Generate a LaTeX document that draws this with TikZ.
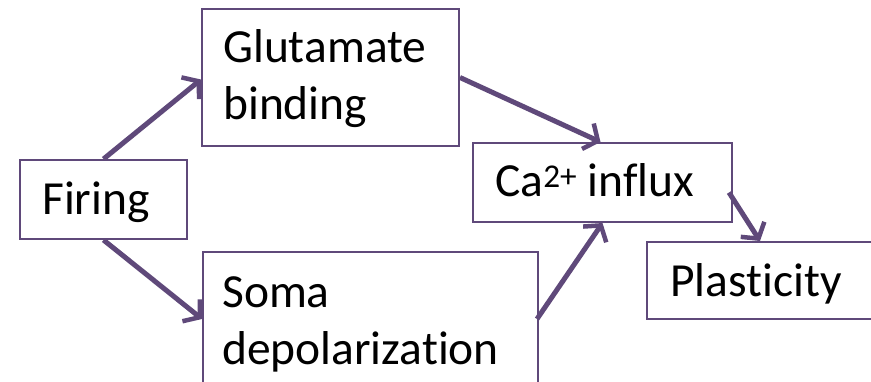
\documentclass[tikz,border=0pt]{standalone}
\usepackage{fontspec}
\setmainfont{Carlito}[Ligatures=NoCommon]
\usetikzlibrary{arrows.meta}
\definecolor{pur}{RGB}{95,73,122}
\tikzset{
  box/.style={draw=pur, line width=2pt, rectangle, inner sep=0pt},
  lbl/.style={anchor=base west, inner sep=0pt, font=\fontsize{47.5}{56}\selectfont},
  flow/.style={draw=pur, line width=5pt, -{Straight Barb[length=11pt,width=28pt,line width=4.5pt]}},
}
\begin{document}
\begin{tikzpicture}[x=1pt,y=-1pt]
\useasboundingbox (0,0) rectangle (871,382);
\node[box, minimum width=167pt, minimum height=79pt] (firing) at (103.5,199.5) {};
\node[box, minimum width=257pt, minimum height=137pt] (glut) at (330.5,77.5) {};
\node[box, minimum width=335pt, minimum height=134pt] (soma) at (370.5,319) {};
\node[box, minimum width=259pt, minimum height=79pt] (ca) at (602.5,182.5) {};
\node[box, minimum width=226pt, minimum height=77pt] (plast) at (760,280.5) {};
\node[lbl] (tfiring) at (42,215) {Firing};
\node[lbl] (tglut1) at (223,63) {Glutamate};
\node[lbl] (tglut2) at (223,120) {binding};
\node[lbl] (tsoma1) at (222,308) {Soma};
\node[lbl] (tsoma2) at (222,365) {depolarization};
\node[lbl] (tca) at (495,197) {Ca\textsuperscript{2+} influx};
\node[lbl] (tplast) at (670,297) {Plasticity};
\coordinate (caout) at ([yshift=-10pt,xshift=-4pt]ca.east);
\draw[flow] (firing.north) -- ([yshift=-2pt]glut.west);
\draw[flow] (firing.south) -- (soma.west);
\draw[flow] (glut.east) -- ([xshift=-2pt]ca.north);
\draw[flow] ([xshift=-2pt]soma.east) -- (ca.south);
\draw[flow] (caout) -- (plast.north);
\end{tikzpicture}
\end{document}
